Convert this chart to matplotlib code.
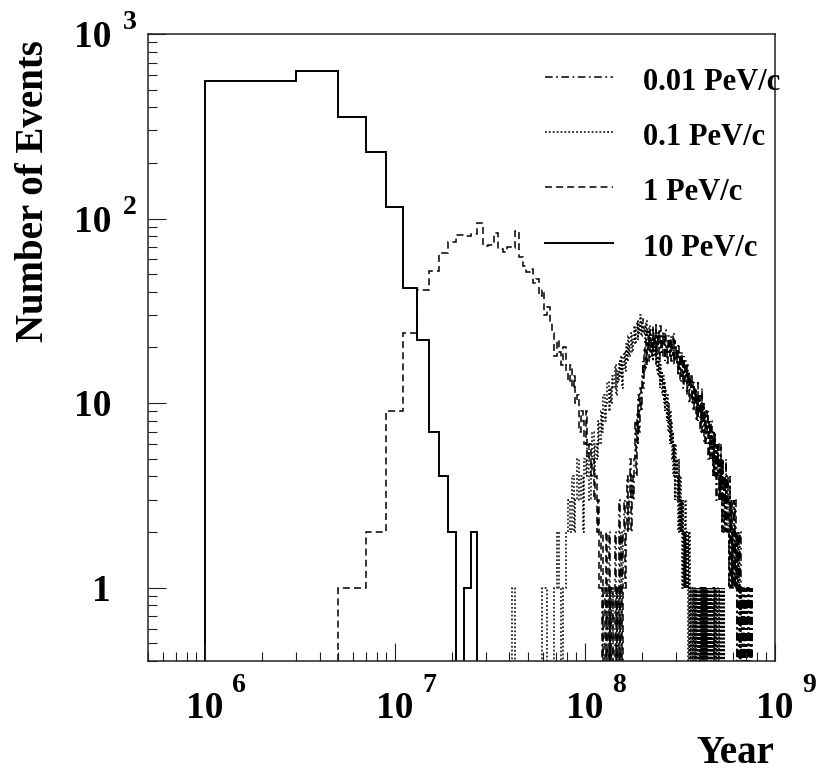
import numpy as np
import matplotlib
matplotlib.use("Agg")
import matplotlib.pyplot as plt
from matplotlib.ticker import LogLocator, NullFormatter
import matplotlib.transforms as mtransforms

# ---------------- data (events per 2e6-year bin) ----------------
BIN_WIDTH = 2e6

pev10_start = 1e6
pev10_counts = [555, 634, 353, 228, 116, 42, 22, 7, 4, 2, 0, 1, 2]

pev1_start = 5e6
pev1_counts = [
    1, 2, 9, 24, 41, 52, 65, 75, 81, 80,
    82, 94, 71, 72, 83, 68, 66, 70, 69, 86,
    62, 55, 51, 53, 45, 47, 38, 41, 30, 33,
    27, 24, 18, 22, 19, 16, 20, 15, 13, 16,
    12, 14, 10, 11, 7, 9, 8, 6, 9, 5,
    6, 4, 5, 3, 4, 2, 3, 1, 2, 2,
    0, 1, 2, 0, 1, 0, 1, 1, 0, 0,
    1, 0, 0, 1, 0, 0, 1, 0,
]

pev01_start = 41e6
pev01_counts = [
    1, 0, 0, 0, 0, 0, 0, 0, 0, 1,
    1, 0, 0, 0, 1, 2, 1, 0, 1, 2,
    3, 2, 4, 2, 3, 5, 3, 4, 2, 5,
    4, 6, 3, 5, 7, 4, 6, 5, 8, 6,
    9, 7, 11, 8, 10, 13, 9, 12, 10, 14,
    12, 16, 11, 15, 13, 17, 14, 18, 12, 16,
    19, 15, 21, 17, 23, 18, 20, 24, 19, 22,
    26, 21, 25, 28, 22, 27, 24, 30, 23, 27,
    29, 24, 26, 21, 28, 23, 25, 20, 26, 22,
    24, 19, 22, 17, 23, 18, 20, 16, 21, 15,
    18, 14, 17, 12, 16, 13, 15, 11, 14, 10,
    13, 9, 12, 10, 8, 11, 7, 10, 8, 6,
    9, 6, 8, 5, 7, 4, 6, 5, 3, 6,
    4, 5, 3, 4, 2, 5, 3, 2, 4, 2,
    3, 2, 1, 3, 2, 1, 2, 1, 3, 1,
    2, 1, 1, 2, 0, 1, 2, 1, 0, 1,
    1, 0, 1, 1, 0, 1, 1, 0, 1, 0, 1, 1, 0, 1, 0, 1, 1, 0, 1, 0,
    1, 0, 1, 0, 1, 1, 0, 1, 0, 1, 0, 1, 1, 0, 1, 0, 0, 1, 0, 1,
    0, 1, 0, 0, 1, 0, 1, 0, 0, 1, 0, 0, 1, 0, 0, 0, 1, 0, 0, 1,
    0, 0, 1, 0, 0, 0, 1, 0, 0, 0, 0, 1, 0, 0, 0, 0, 1, 0, 0, 0,
    0, 0, 1, 0, 0, 0, 0, 0, 1, 0,
]

pev001_start = 121e6
pev001_counts = [
    0, 1, 0, 0, 1, 0, 2, 0, 1, 1,
    0, 2, 1, 0, 1, 3, 0, 2, 1, 2,
    3, 1, 2, 4, 2, 3, 5, 2, 4, 3,
    5, 8, 4, 9, 6, 11, 7, 12, 9, 14,
    17, 12, 20, 15, 22, 16, 19, 23, 17, 21,
    25, 18, 22, 26, 19, 24, 21, 27, 18, 23,
    20, 25, 17, 22, 26, 19, 23, 18, 24, 21,
    22, 17, 25, 19, 21, 16, 23, 20, 18, 22,
    19, 23, 17, 21, 18, 24, 16, 20, 22, 17,
    20, 16, 19, 14, 21, 17, 15, 19, 13, 18,
    16, 19, 14, 17, 12, 18, 15, 13, 17, 14,
    15, 11, 16, 13, 12, 15, 10, 14, 12, 13,
    12, 14, 10, 13, 11, 9, 13, 10, 12, 11,
    10, 12, 8, 11, 9, 13, 8, 10, 11, 9,
    9, 11, 7, 10, 8, 9, 12, 7, 10, 8,
    8, 10, 6, 9, 7, 8, 6, 9, 7, 8,
    7, 9, 5, 8, 6, 7, 5, 8, 6, 7,
    6, 8, 5, 7, 4, 6, 5, 7, 4, 6,
    5, 7, 4, 6, 5, 3, 6, 4, 5, 6,
    4, 6, 3, 5, 4, 5, 3, 4, 6, 3,
    4, 5, 3, 2, 4, 3, 5, 2, 4, 3,
    3, 4, 2, 3, 5, 2, 3, 4, 2, 3,
    2, 3, 4, 2, 3, 1, 3, 2, 4, 2,
    3, 1, 2, 3, 2, 1, 3, 2, 1, 2,
    2, 1, 2, 3, 1, 2, 1, 2, 1, 3,
    1, 2, 1, 1, 2, 0, 1, 2, 1, 1,
    1, 1, 0, 2, 1, 0, 1, 1, 2, 0,
    1, 0, 1, 1, 0, 1, 0, 1, 0, 1, 1, 0, 0, 1, 0, 1, 0, 0, 1, 0,
    1, 0, 0, 0, 1, 0, 0, 1, 0, 0, 0, 0, 1, 0, 0,
    0, 0, 1, 0, 0, 0, 0, 0, 1, 0, 0, 0, 0, 0, 1,
]

series_labels = ["0.01 PeV/c", "0.1 PeV/c", "1 PeV/c", "10 PeV/c"]

x_tick_exponents = [6, 7, 8, 9]
y_tick_values = [1, 10, 100, 1000]
y_tick_bases = ["1", "10", "10", "10"]
y_tick_exps = ["", "", "2", "3"]

x_title = "Year"
y_title = "Number of Events"

# ---------------- styling ----------------
plt.rcParams["lines.scale_dashes"] = False
FONT = "Liberation Serif"
LW = 1.1
styles = {
    "0.01 PeV/c": dict(ls=(0, (5.5, 2.5, 1.3, 2.5)), lw=LW),
    "0.1 PeV/c": dict(ls=(0, (1.3, 1.5)), lw=LW),
    "1 PeV/c": dict(ls=(0, (5.0, 3.0)), lw=LW),
    "10 PeV/c": dict(ls="-", lw=1.4),
}
series_data = {
    "0.01 PeV/c": (pev001_start, pev001_counts),
    "0.1 PeV/c": (pev01_start, pev01_counts),
    "1 PeV/c": (pev1_start, pev1_counts),
    "10 PeV/c": (pev10_start, pev10_counts),
}

W, H = 825, 771
fig = plt.figure(figsize=(W / 100, H / 100), dpi=100)
AX_L, AX_R, AX_T, AX_B = 148, 775, 34, 661
AXW, AXH = AX_R - AX_L, AX_B - AX_T
ax = fig.add_axes([AX_L / W, (H - AX_B) / H, AXW / W, AXH / H])

ax.set_xscale("log")
ax.set_yscale("log")
ax.set_xlim(5e5, 1e9)
ax.set_ylim(0.4, 1000)

FLOOR = 1e-3
for label in series_labels:
    start, counts = series_data[label]
    vals = np.asarray(counts, dtype=float)
    edges = start + BIN_WIDTH * np.arange(len(vals) + 1)
    ax.stairs(np.where(vals > 0, vals, FLOOR), edges, baseline=FLOOR,
              color="black", linestyle=styles[label]["ls"],
              linewidth=styles[label]["lw"])

# axes styling
for s in ax.spines.values():
    s.set_linewidth(1.1)
    s.set_color("#222222")
ax.xaxis.set_major_locator(LogLocator(base=10, numticks=20))
ax.xaxis.set_minor_locator(LogLocator(base=10, subs=np.arange(2, 10), numticks=50))
ax.yaxis.set_major_locator(LogLocator(base=10, numticks=20))
ax.yaxis.set_minor_locator(LogLocator(base=10, subs=np.arange(2, 10), numticks=50))
ax.xaxis.set_minor_formatter(NullFormatter())
ax.yaxis.set_minor_formatter(NullFormatter())
ax.tick_params(which="both", direction="in", top=False, right=False,
               labelbottom=False, labelleft=False, width=0.8, color="#222222")
ax.tick_params(which="major", length=13)
ax.tick_params(which="minor", length=6.8)

PX = 0.72  # points per pixel
BIG = 27
SMALL = 20
TITLE = 28

# x tick labels
tx = mtransforms.blended_transform_factory(ax.transData, ax.transAxes)
for e in x_tick_exponents:
    ax.text(10.0 ** e, -(718 - AX_B) / AXH, "10", transform=tx, ha="center",
            va="baseline", fontsize=BIG, fontweight="bold", family=FONT)
    ax.text(10.0 ** e, -(692 - AX_B) / AXH, str(e),
            transform=mtransforms.offset_copy(tx, fig, x=27 * PX, y=0, units="points"),
            ha="left", va="baseline", fontsize=SMALL, fontweight="bold", family=FONT)

# y tick labels
ty = mtransforms.blended_transform_factory(ax.transAxes, ax.transData)
for v, b, ex in zip(y_tick_values, y_tick_bases, y_tick_exps):
    ax.text((111 - AX_L) / AXW, v, b,
            transform=mtransforms.offset_copy(ty, fig, x=0, y=-13 * PX, units="points"),
            ha="right", va="baseline", fontsize=BIG, fontweight="bold", family=FONT)
    if ex:
        ax.text((123 - AX_L) / AXW, v, ex,
                transform=mtransforms.offset_copy(ty, fig, x=0, y=5 * PX, units="points"),
                ha="left", va="baseline", fontsize=SMALL, fontweight="bold", family=FONT)

# axis titles
ax.text((774 - AX_L) / AXW, -(763 - AX_B) / AXH, x_title, transform=ax.transAxes,
        ha="right", va="baseline", fontsize=TITLE, fontweight="bold", family=FONT)
ax.text((34 - AX_L) / AXW, (AX_B - 40) / AXH, y_title, transform=ax.transAxes,
        rotation=90, ha="center", va="top", fontsize=TITLE, fontweight="bold", family=FONT)

# legend (drawn in axes coordinates)
leg_rows = [80, 135, 190, 246]
for label, row in zip(series_labels, leg_rows):
    yl = (AX_B - (row - 3)) / AXH
    ax.plot([(545 - AX_L) / AXW, (613 - AX_L) / AXW], [yl, yl], transform=ax.transAxes,
            color="black", linestyle=styles[label]["ls"], linewidth=styles[label]["lw"],
            clip_on=False)
    ax.text((643 - AX_L) / AXW, (AX_B - (row + 10)) / AXH, label, transform=ax.transAxes,
            ha="left", va="baseline", fontsize=22, fontweight="bold", family=FONT,
            clip_on=False)

fig.savefig("out.png", dpi=100)
